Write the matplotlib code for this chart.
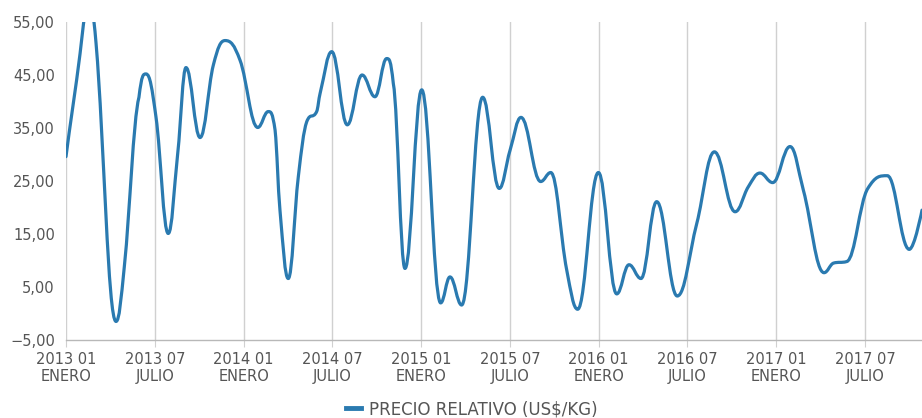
import matplotlib.pyplot as plt
from matplotlib.path import Path
from matplotlib.patches import PathPatch
from matplotlib.lines import Line2D

# months since 2013-01 (fractional) and relative price
mes = [0.0, 0.72, 1.55, 2.03, 3.38, 3.94, 4.93, 5.41, 6.08,
       6.91, 7.55, 8.11, 9.06, 9.96, 10.75, 11.76, 12.96, 13.67, 14.13,
       14.46, 15.02, 15.70, 16.27, 16.94, 17.17, 17.96, 19.01, 20.01, 20.88,
       21.67, 22.12, 22.91, 24.04, 25.32, 25.95, 26.74, 28.16, 29.28, 30.01,
       30.75, 32.08, 32.76, 33.84, 34.58, 35.98, 37.22, 38.05, 38.86, 39.92,
       41.31, 42.63, 43.82, 45.22, 46.11, 46.90, 47.76, 48.93, 49.83, 51.23,
       51.86, 52.76, 54.19, 55.51, 56.99, 57.85]
precio = [29.6, 44.1, 58.5, 51.0, -1.5, 8.8, 40.8, 45.2, 37.1,
          15.1, 30.2, 46.4, 33.2, 46.9, 51.5, 47.8, 35.1, 38.1, 34.6,
          19.5, 6.6, 25.8, 36.2, 38.1, 41.5, 49.4, 35.6, 45.0, 40.9,
          48.1, 43.4, 8.5, 42.2, 2.0, 6.9, 1.6, 40.8, 23.6, 30.8,
          37.0, 24.9, 26.6, 8.2, 0.8, 26.6, 3.7, 9.2, 6.6, 21.1,
          3.3, 17.0, 30.5, 19.2, 23.9, 26.5, 24.7, 31.5, 23.3, 7.7,
          9.5, 9.8, 23.6, 26.0, 12.1, 19.5]

tick_mes = [0, 6, 12, 18, 24, 30, 36, 42, 48, 54]
tick_etiquetas = ["2013 01\nENERO", "2013 07\nJULIO", "2014 01\nENERO", "2014 07\nJULIO",
                  "2015 01\nENERO", "2015 07\nJULIO", "2016 01\nENERO", "2016 07\nJULIO",
                  "2017 01\nENERO", "2017 07\nJULIO"]
y_ticks = [-5, 5, 15, 25, 35, 45, 55]

color_linea = "#2a7ab0"
color_texto = "#555555"
color_grid = "#d0d0d0"


def spline_path(xs, ys, smoothing=1.5):
    # same control-point rule as a Highcharts "spline" series
    n = len(xs)
    left = [(xs[0], ys[0])] * n
    right = [(xs[0], ys[0])] * n
    for i in range(n):
        x, y = xs[i], ys[i]
        if i == 0 or i == n - 1:
            left[i] = right[i] = (x, y)
            continue
        lx, ly = xs[i - 1], ys[i - 1]
        nx, ny = xs[i + 1], ys[i + 1]
        d = smoothing + 1
        lcx, lcy = (smoothing * x + lx) / d, (smoothing * y + ly) / d
        rcx, rcy = (smoothing * x + nx) / d, (smoothing * y + ny) / d
        if rcx != lcx:
            corr = (rcy - lcy) * (rcx - x) / (rcx - lcx) + y - rcy
            lcy += corr
            rcy += corr
        if lcy > ly and lcy > y:
            lcy = max(ly, y)
            rcy = 2 * y - lcy
        elif lcy < ly and lcy < y:
            lcy = min(ly, y)
            rcy = 2 * y - lcy
        if rcy > ny and rcy > y:
            rcy = max(ny, y)
            lcy = 2 * y - rcy
        elif rcy < ny and rcy < y:
            rcy = min(ny, y)
            lcy = 2 * y - rcy
        left[i] = (lcx, lcy)
        right[i] = (rcx, rcy)
    verts = [(xs[0], ys[0])]
    codes = [Path.MOVETO]
    for i in range(1, n):
        verts += [right[i - 1], left[i], (xs[i], ys[i])]
        codes += [Path.CURVE4] * 3
    return Path(verts, codes)


fig = plt.figure(figsize=(9.22, 4.18), dpi=100)
ax = fig.add_axes([66 / 922, 1 - 340 / 418, 1 - 66 / 922, (340 - 22) / 418])

ax.add_patch(PathPatch(spline_path(mes, precio), fill=False, edgecolor=color_linea,
                       linewidth=2.3, capstyle="round", joinstyle="round", zorder=3))

ax.set_xlim(0, mes[-1])
ax.set_ylim(-5, 55)

ax.set_xticks(tick_mes)
ax.set_xticklabels(tick_etiquetas, fontsize=10.5, color=color_texto, linespacing=1.15)
ax.set_yticks(y_ticks)
ax.set_yticklabels([f"{v:.2f}".replace(".", ",").replace("-", "\u2212") for v in y_ticks],
                   fontsize=10.5, color=color_texto)

ax.grid(True, axis="x", color=color_grid, linewidth=1)
ax.tick_params(axis="x", length=5, color=color_grid, pad=4)
ax.tick_params(axis="y", length=0, pad=8)

for s in ["top", "right", "left"]:
    ax.spines[s].set_visible(False)
ax.spines["bottom"].set_color("#b8b8b8")
ax.spines["bottom"].set_linewidth(1)

handle = Line2D([], [], color=color_linea, linewidth=3.5)
fig.legend([handle], ["PRECIO RELATIVO (US$/KG)"], loc="center",
           bbox_to_anchor=(0.512, 0.021), frameon=False, fontsize=12,
           handlelength=0.9, handletextpad=0.5, labelcolor=color_texto)

fig.savefig("out.png", dpi=100)
